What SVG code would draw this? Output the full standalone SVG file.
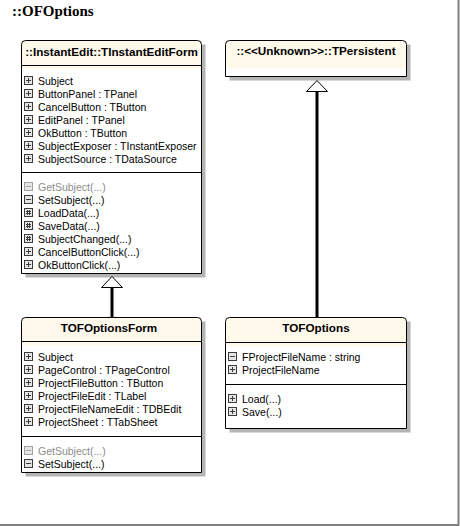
<svg xmlns="http://www.w3.org/2000/svg" width="460" height="526" viewBox="0 0 460 526">
  <style>
    .title { font-family: "Liberation Serif", "Times New Roman", serif; font-weight: bold; font-size: 15px; fill: #000; }
    .hdr { font-family: "Liberation Sans", Arial, sans-serif; font-weight: bold; font-size: 11.7px; fill: #000; text-anchor: middle; }
    .row { font-family: "Liberation Sans", Arial, sans-serif; font-size: 10.5px; fill: #000; }
    .dim { fill: #8c8c8c; }
    .shadow { fill: #b4b4b4; }
    .body { fill: #ffffff; stroke: none; }
    .head { fill: #fff9ec; stroke: none; }
    .edge { fill: none; stroke: #000; stroke-width: 1; }
    .sep { stroke: #000; stroke-width: 1; }
    .ico { color: #3c3c3c; }
    .ico.off { color: #a0a0a0; }
    .gen { stroke: #000; stroke-width: 3; fill: none; }
    .tri { fill: #fff; stroke: #000; stroke-width: 1; }
  </style>
  <defs>
    <!-- visibility icons: public (+), private (-), protected (#) -->
    <symbol id="pub" viewBox="0 0 9 9" width="9" height="9">
      <rect x="0.5" y="0.5" width="8" height="8" fill="#e6e6e6" stroke="currentColor"/>
      <path d="M2 4.5H7M4.5 2V7" stroke="currentColor" stroke-width="1"/>
    </symbol>
    <symbol id="priv" viewBox="0 0 9 9" width="9" height="9">
      <rect x="0.5" y="0.5" width="8" height="8" fill="#e6e6e6" stroke="currentColor"/>
      <path d="M2 4.5H7" stroke="currentColor" stroke-width="1"/>
    </symbol>
    <symbol id="prot" viewBox="0 0 9 9" width="9" height="9">
      <rect x="0.5" y="0.5" width="8" height="8" fill="#e6e6e6" stroke="currentColor"/>
      <path d="M2 3.5H7M2 5.5H7M3.5 2V7M5.5 2V7" stroke="currentColor" stroke-width="1"/>
    </symbol>
  </defs>

  <!-- page frame -->
  <path d="M458.5 0V525H0" fill="none" stroke="#808080" stroke-width="2"/>

  <text class="title" x="12" y="16">::OFOptions</text>

  <!-- ::InstantEdit::TInstantEditForm -->
  <g id="TInstantEditForm">
    <rect class="shadow" x="25.5" y="44.5" width="180" height="233"/>
    <rect class="body" x="21.5" y="40.5" width="180" height="233"/>
    <path class="head" d="M21.5 44.5Q21.5 40.5 25.5 40.5H197.5Q201.5 40.5 201.5 44.5V69.5H21.5Z"/>
    <path class="edge" d="M21.5 44.5Q21.5 40.5 25.5 40.5H197.5Q201.5 40.5 201.5 44.5V273.5H21.5Z"/>
    <text class="hdr" x="111.5" y="56">::InstantEdit::TInstantEditForm</text>
    <line class="sep" x1="21.5" y1="65.5" x2="201.5" y2="65.5"/>
    <use class="ico" href="#pub" x="24" y="76"/><text class="row" x="38" y="84.5">Subject</text>
    <use class="ico" href="#pub" x="24" y="89"/><text class="row" x="38" y="97.5">ButtonPanel : TPanel</text>
    <use class="ico" href="#pub" x="24" y="102"/><text class="row" x="38" y="110.5">CancelButton : TButton</text>
    <use class="ico" href="#pub" x="24" y="115"/><text class="row" x="38" y="123.5">EditPanel : TPanel</text>
    <use class="ico" href="#pub" x="24" y="128"/><text class="row" x="38" y="136.5">OkButton : TButton</text>
    <use class="ico" href="#pub" x="24" y="141"/><text class="row" x="38" y="149.5">SubjectExposer : TInstantExposer</text>
    <use class="ico" href="#pub" x="24" y="154"/><text class="row" x="38" y="162.5">SubjectSource : TDataSource</text>
    <line class="sep" x1="21.5" y1="172.5" x2="201.5" y2="172.5"/>
    <use class="ico off" href="#priv" x="24" y="182"/><text class="row dim" x="38" y="190.5">GetSubject(...)</text>
    <use class="ico" href="#priv" x="24" y="195"/><text class="row" x="38" y="203.5">SetSubject(...)</text>
    <use class="ico" href="#prot" x="24" y="208"/><text class="row" x="38" y="216.5">LoadData(...)</text>
    <use class="ico" href="#prot" x="24" y="221"/><text class="row" x="38" y="229.5">SaveData(...)</text>
    <use class="ico" href="#prot" x="24" y="234"/><text class="row" x="38" y="242.5">SubjectChanged(...)</text>
    <use class="ico" href="#pub" x="24" y="247"/><text class="row" x="38" y="255.5">CancelButtonClick(...)</text>
    <use class="ico" href="#pub" x="24" y="260"/><text class="row" x="38" y="268.5">OkButtonClick(...)</text>
  </g>

  <!-- ::<<Unknown>>::TPersistent -->
  <g id="TPersistent">
    <rect class="shadow" x="229.5" y="44.5" width="181" height="36"/>
    <rect class="body" x="225.5" y="40.5" width="181" height="36"/>
    <path class="head" d="M225.5 44.5Q225.5 40.5 229.5 40.5H402.5Q406.5 40.5 406.5 44.5V68.5H225.5Z"/>
    <path class="edge" d="M225.5 44.5Q225.5 40.5 229.5 40.5H402.5Q406.5 40.5 406.5 44.5V76.5H225.5Z"/>
    <text class="hdr" x="316" y="55">::&lt;&lt;Unknown&gt;&gt;::TPersistent</text>
  </g>

  <!-- TOFOptionsForm -->
  <g id="TOFOptionsForm">
    <rect class="shadow" x="25.5" y="321.5" width="180" height="155"/>
    <rect class="body" x="21.5" y="317.5" width="180" height="155"/>
    <path class="head" d="M21.5 321.5Q21.5 317.5 25.5 317.5H197.5Q201.5 317.5 201.5 321.5V345.5H21.5Z"/>
    <path class="edge" d="M21.5 321.5Q21.5 317.5 25.5 317.5H197.5Q201.5 317.5 201.5 321.5V472.5H21.5Z"/>
    <text class="hdr" x="109" y="332">TOFOptionsForm</text>
    <line class="sep" x1="21.5" y1="341.5" x2="201.5" y2="341.5"/>
    <use class="ico" href="#pub" x="24" y="352"/><text class="row" x="38" y="360.5">Subject</text>
    <use class="ico" href="#pub" x="24" y="365"/><text class="row" x="38" y="373.5">PageControl : TPageControl</text>
    <use class="ico" href="#pub" x="24" y="378"/><text class="row" x="38" y="386.5">ProjectFileButton : TButton</text>
    <use class="ico" href="#pub" x="24" y="391"/><text class="row" x="38" y="399.5">ProjectFileEdit : TLabel</text>
    <use class="ico" href="#pub" x="24" y="404"/><text class="row" x="38" y="412.5">ProjectFileNameEdit : TDBEdit</text>
    <use class="ico" href="#pub" x="24" y="417"/><text class="row" x="38" y="425.5">ProjectSheet : TTabSheet</text>
    <line class="sep" x1="21.5" y1="436.5" x2="201.5" y2="436.5"/>
    <use class="ico off" href="#priv" x="24" y="446"/><text class="row dim" x="38" y="454.5">GetSubject(...)</text>
    <use class="ico" href="#priv" x="24" y="459"/><text class="row" x="38" y="467.5">SetSubject(...)</text>
  </g>

  <!-- TOFOptions -->
  <g id="TOFOptions">
    <rect class="shadow" x="229.5" y="321.5" width="181" height="111"/>
    <rect class="body" x="225.5" y="317.5" width="181" height="111"/>
    <path class="head" d="M225.5 321.5Q225.5 317.5 229.5 317.5H402.5Q406.5 317.5 406.5 321.5V346.5H225.5Z"/>
    <path class="edge" d="M225.5 321.5Q225.5 317.5 229.5 317.5H402.5Q406.5 317.5 406.5 321.5V428.5H225.5Z"/>
    <text class="hdr" x="316" y="332">TOFOptions</text>
    <line class="sep" x1="225.5" y1="342.5" x2="406.5" y2="342.5"/>
    <use class="ico" href="#priv" x="228" y="352"/><text class="row" x="242" y="360.5">FProjectFileName : string</text>
    <use class="ico" href="#pub" x="228" y="365"/><text class="row" x="242" y="373.5">ProjectFileName</text>
    <line class="sep" x1="225.5" y1="384.5" x2="406.5" y2="384.5"/>
    <use class="ico" href="#pub" x="228" y="394"/><text class="row" x="242" y="402.5">Load(...)</text>
    <use class="ico" href="#pub" x="228" y="407"/><text class="row" x="242" y="415.5">Save(...)</text>
  </g>

  <!-- generalization connectors -->
  <g id="connectors">
    <line class="gen" x1="112" y1="287.5" x2="112" y2="317.5"/>
    <path class="tri" d="M112 276.5L122.5 287.5H101.5Z"/>
    <line class="gen" x1="317" y1="91.5" x2="317" y2="317.5"/>
    <path class="tri" d="M317 80.5L327.5 91.5H306.5Z"/>
  </g>
</svg>
